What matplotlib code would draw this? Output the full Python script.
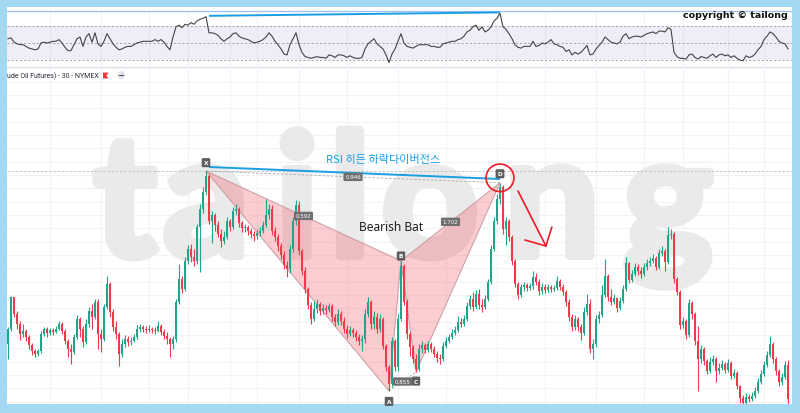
import numpy as np
import matplotlib
matplotlib.use("Agg")
import matplotlib.pyplot as plt
from matplotlib.patches import Polygon, Ellipse, Rectangle
import matplotlib.patheffects as pe

# ---------------- data: 30-minute crude oil candles ----------------
first_open = 65.5
closes = [
    67.0, 70.2, 68.5, 67.5, 66.5, 66.8, 66.2, 65.4, 64.8, 64.5,
    64.8, 66.5, 67.0, 66.6, 66.9, 66.7, 67.0, 67.5, 66.8, 65.8,
    65.0, 64.7, 66.2, 68.0, 67.0, 65.7, 67.5, 68.8, 68.2, 69.7,
    66.5, 66.0, 69.2, 71.5, 68.7, 67.2, 66.5, 64.5, 65.5, 66.0,
    65.7, 65.8, 66.2, 67.0, 67.2, 67.0, 66.9, 67.0, 66.9, 66.8,
    67.3, 66.7, 66.3, 66.0, 65.5, 66.0, 69.7, 72.0, 71.0, 73.8,
    75.0, 74.2, 73.8, 77.2, 79.0, 80.7, 82.3, 77.8, 78.4, 77.4,
    76.5, 75.8, 76.2, 77.8, 77.2, 78.8, 79.0, 77.6, 77.1, 77.2,
    76.8, 76.5, 76.3, 76.6, 76.8, 77.4, 78.4, 79.0, 76.8, 76.2,
    75.3, 74.4, 73.4, 73.0, 75.0, 77.8, 79.4, 74.8, 72.8, 71.0,
    69.4, 68.0, 69.0, 69.5, 68.8, 69.1, 68.9, 69.3, 68.2, 67.7,
    68.5, 67.8, 67.0, 66.5, 66.9, 66.6, 66.2, 65.8, 66.0, 68.5,
    69.7, 67.5, 68.2, 67.0, 68.0, 65.3, 63.2, 61.5, 65.8, 63.2,
    68.0, 73.3, 69.7, 66.5, 65.2, 64.0, 63.0, 65.0, 65.4, 64.9,
    65.5, 65.0, 64.5, 64.1, 64.0, 65.3, 65.8, 66.2, 66.6, 66.9,
    67.7, 67.5, 68.0, 69.3, 70.0, 69.2, 70.5, 69.4, 69.2, 70.0,
    71.7, 75.0, 77.8, 80.0, 81.2, 77.0, 77.8, 76.2, 73.8, 71.5,
    70.4, 71.2, 71.4, 71.1, 71.3, 72.2, 71.7, 70.8, 71.2, 70.9,
    71.2, 71.0, 71.1, 71.8, 71.2, 70.7, 69.7, 68.2, 67.2, 68.0,
    67.2, 66.6, 68.7, 69.5, 65.0, 65.5, 68.0, 68.4, 70.4, 72.3,
    70.2, 69.7, 70.1, 69.1, 69.8, 71.0, 73.6, 71.9, 72.5, 73.2,
    72.8, 72.5, 73.2, 73.6, 73.8, 74.1, 73.2, 74.6, 74.8, 73.7,
    76.4, 76.5, 72.0, 70.7, 67.4, 67.8, 66.4, 69.6, 68.5, 65.8,
    64.0, 65.0, 63.8, 62.8, 63.7, 64.0, 62.8, 63.1, 63.5, 62.9,
    63.6, 62.3, 62.6, 61.3, 60.1, 59.6, 60.2, 60.0, 60.3, 60.8,
    61.7, 62.5, 63.4, 64.4, 65.5, 64.0, 62.8, 61.7, 62.2, 63.4, 60.0,
]
highs = [
    67.2, 70.3, 70.2, 68.8, 67.8, 67.5, 67.0, 66.4, 65.6, 65.0,
    65.0, 66.8, 67.2, 67.2, 67.1, 67.1, 67.3, 67.8, 67.7, 67.0,
    66.0, 65.5, 66.5, 68.4, 68.2, 67.3, 68.0, 69.2, 69.5, 70.0,
    70.0, 67.0, 69.5, 72.3, 71.7, 69.0, 67.8, 66.7, 66.0, 66.4,
    66.3, 66.2, 66.5, 67.4, 67.5, 67.4, 67.3, 67.4, 67.2, 67.2,
    67.8, 67.5, 67.0, 66.7, 66.2, 66.3, 70.0, 73.5, 72.3, 74.2,
    75.4, 75.5, 75.0, 77.5, 79.5, 81.2, 82.8, 82.5, 78.8, 78.6,
    77.8, 77.0, 76.8, 78.2, 78.0, 79.2, 79.5, 79.2, 77.8, 77.5,
    77.4, 77.1, 76.8, 77.0, 77.2, 77.8, 80.0, 79.5, 79.4, 77.2,
    76.5, 75.6, 74.8, 73.8, 75.4, 78.2, 79.9, 79.8, 75.0, 73.2,
    71.2, 69.7, 69.8, 70.0, 69.7, 69.5, 69.4, 69.6, 69.5, 68.5,
    69.0, 68.8, 68.2, 67.4, 67.3, 67.1, 66.9, 66.5, 66.4, 69.0,
    70.2, 69.9, 68.8, 68.6, 68.5, 68.2, 65.5, 63.4, 66.2, 66.0,
    68.5, 73.8, 73.5, 70.0, 66.7, 65.4, 64.5, 65.5, 65.8, 65.6,
    65.8, 65.7, 65.3, 64.8, 64.5, 65.7, 66.2, 66.5, 67.0, 67.3,
    68.3, 68.1, 68.4, 69.7, 70.4, 70.7, 70.9, 71.0, 70.0, 70.4,
    72.0, 75.4, 78.2, 80.5, 81.6, 81.4, 78.2, 78.0, 76.4, 74.0,
    71.7, 71.5, 71.7, 71.6, 71.6, 72.8, 72.6, 72.0, 71.6, 71.5,
    71.5, 71.4, 71.4, 72.3, 72.0, 71.5, 70.9, 70.0, 68.5, 68.4,
    68.2, 67.5, 69.2, 70.5, 70.0, 66.0, 68.4, 68.8, 71.4, 74.0,
    72.5, 71.0, 70.5, 70.2, 70.2, 71.4, 74.2, 73.7, 72.9, 73.6,
    73.5, 73.2, 73.6, 74.0, 74.2, 74.5, 74.3, 75.0, 75.3, 75.0,
    77.2, 77.0, 76.7, 72.2, 70.9, 68.2, 68.0, 70.0, 69.8, 68.7,
    67.3, 65.4, 65.2, 64.0, 64.2, 64.4, 64.2, 63.6, 63.9, 63.7,
    64.0, 63.8, 63.0, 62.8, 61.4, 60.4, 60.6, 60.5, 60.7, 61.2,
    62.1, 62.9, 63.8, 64.8, 66.3, 65.7, 64.2, 63.0, 62.6, 63.8, 63.9,
]
lows = [
    64.0, 66.8, 68.2, 67.0, 65.9, 66.2, 65.8, 65.0, 64.4, 64.2,
    64.3, 64.6, 66.3, 66.2, 66.4, 66.4, 66.6, 66.9, 66.5, 65.5,
    64.2, 63.5, 64.5, 66.0, 66.2, 65.2, 65.5, 67.2, 67.0, 68.0,
    65.0, 64.7, 65.8, 69.0, 68.2, 66.8, 66.0, 63.3, 64.2, 65.2,
    65.3, 65.4, 65.7, 66.0, 66.7, 66.7, 66.6, 66.7, 66.6, 66.5,
    66.7, 66.4, 66.0, 65.5, 64.2, 65.0, 65.7, 69.5, 70.6, 70.8,
    73.5, 73.7, 73.3, 73.5, 72.7, 78.6, 80.4, 77.5, 75.6, 76.8,
    76.2, 75.2, 75.5, 76.0, 76.8, 77.0, 78.4, 77.2, 76.7, 76.7,
    76.4, 76.1, 75.8, 76.0, 76.3, 76.6, 77.2, 78.0, 76.4, 75.8,
    74.8, 74.0, 73.0, 72.2, 72.6, 74.7, 77.4, 74.4, 72.4, 70.6,
    69.0, 67.5, 67.8, 68.6, 68.4, 68.5, 68.5, 68.7, 67.8, 67.3,
    67.4, 67.4, 66.6, 66.1, 66.3, 66.2, 65.8, 65.4, 64.8, 65.6,
    68.2, 67.0, 67.0, 66.6, 66.7, 65.0, 62.8, 60.8, 61.2, 62.8,
    62.8, 67.8, 69.4, 66.0, 64.3, 63.6, 62.7, 62.8, 64.6, 64.6,
    64.7, 64.7, 64.2, 63.7, 63.5, 63.8, 65.1, 65.6, 66.0, 66.4,
    66.7, 67.2, 67.3, 67.8, 69.0, 68.8, 69.0, 69.0, 68.7, 69.0,
    69.8, 71.5, 74.8, 77.5, 79.5, 76.5, 75.4, 75.8, 73.4, 71.2,
    70.0, 70.2, 70.8, 70.8, 70.9, 71.0, 71.4, 70.4, 70.5, 70.6,
    70.7, 70.7, 70.8, 70.9, 70.9, 70.4, 69.3, 67.8, 66.8, 66.9,
    66.8, 65.9, 66.4, 68.4, 64.6, 64.0, 65.2, 67.6, 68.2, 70.2,
    69.8, 69.4, 69.5, 68.7, 68.9, 69.6, 70.8, 71.6, 71.7, 72.3,
    72.4, 72.1, 72.3, 72.9, 73.3, 73.6, 72.9, 73.0, 74.3, 72.8,
    73.5, 76.0, 71.6, 70.4, 67.0, 67.1, 66.0, 66.2, 68.0, 65.4,
    60.8, 63.6, 63.4, 62.5, 62.6, 63.4, 61.7, 62.5, 62.9, 62.6,
    62.7, 62.0, 62.1, 61.0, 59.6, 59.2, 59.4, 59.7, 59.8, 60.1,
    60.6, 61.5, 62.3, 63.2, 64.2, 63.6, 62.4, 61.3, 61.4, 62.0, 59.0,
]
# RSI(14) per candle
rsi = [
    55, 56, 51, 49, 48, 48, 46, 44, 43, 42,
    43, 50, 51, 50, 51, 52, 52, 54, 50, 45,
    41, 41, 48, 55, 57, 46, 57, 61, 51, 62,
    49, 46, 52, 61, 55, 49, 45, 42, 43, 45,
    46, 46, 48, 50, 51, 52, 52, 52, 52, 54,
    52, 54, 51, 46, 42, 57, 69, 71, 68, 72,
    71, 74, 72, 76, 78, 79, 81, 62, 62, 61,
    59, 55, 52, 55, 57, 61, 62, 58, 56, 55,
    54, 52, 50, 51, 52, 54, 57, 62, 58, 52,
    48, 43, 37, 36, 48, 55, 62, 48, 39, 34,
    33, 32, 33, 34, 33, 33, 32, 36, 35, 33,
    36, 36, 35, 33, 35, 33, 32, 32, 33, 43,
    49, 52, 55, 49, 46, 43, 36, 27, 37, 43,
    52, 61, 50, 46, 45, 44, 46, 48, 48, 48,
    48, 46, 46, 45, 45, 49, 50, 51, 52, 52,
    54, 55, 58, 63, 65, 69, 71, 65, 69, 63,
    65, 69, 76, 79, 85, 69, 66, 61, 55, 48,
    45, 44, 46, 46, 46, 52, 46, 47, 50, 49,
    51, 54, 49, 48, 46, 45, 40, 42, 36, 39,
    37, 39, 43, 47, 36, 37, 43, 47, 51, 57,
    54, 51, 50, 49, 51, 58, 61, 55, 57, 58,
    58, 57, 59, 61, 62, 63, 61, 64, 64, 63,
    68, 66, 39, 34, 32, 32, 31, 36, 37, 33,
    31, 34, 33, 32, 35, 37, 33, 36, 37, 35,
    36, 33, 35, 32, 30, 29, 35, 33, 34, 37,
    42, 46, 54, 58, 63, 61, 57, 52, 50, 49, 43,
]

# Bearish Bat pivots (candle index, price)
pattern_names = ["X", "A", "B", "C", "D"]
pattern_idx = [66, 127, 131, 136, 164]
pattern_price = [82.800, 60.800, 73.815, 62.692, 81.619]

# hidden bearish divergence: price highs vs RSI highs
div_idx = [67, 164]
div_price = [83.2, 82.0]
div_rsi = [82.0, 86.0]

# sell-side arrow after D (candle index, price)
arrow_idx = [170.0, 179.3]
arrow_price = [80.8, 75.3]
arrow_head_idx = [181.3, 179.3, 172.3]
arrow_head_price = [77.2, 75.3, 75.9]

# ---------------- styling ----------------
W, H = 800, 414
FRAME = "#a4d8f3"
UP = "#1fa58a"
DOWN = "#f03a4a"
GRID = "#f1f3f7"
BLUE = "#1a9fe3"
RED = "#ee1c25"
WM = "#eaeaea"

plt.rcParams["font.family"] = ["DejaVu Sans"]

fig = plt.figure(figsize=(W / 100, H / 100), dpi=100, facecolor=FRAME)


def fx(x):
    return x / W


def fy(y):
    return 1 - y / H


fig.add_artist(Rectangle((fx(7), fy(405)), 785 / W, 397 / H,
                         transform=fig.transFigure, fc="white", ec="none", zorder=-10))

n = len(closes)
idx = np.arange(n)
closes_a = np.array(closes)
opens_a = np.r_[first_open, closes_a[:-1]]
highs_a = np.array(highs)
lows_a = np.array(lows)
XLIM = (-1 / 3, n + 1 / 3)
vgrid = [14, 31, 47, 60, 74, 83, 97, 113, 130, 146, 163, 179, 196, 212, 225, 240, 252]

# ---------------- RSI pane ----------------
rax = fig.add_axes([fx(7), fy(68), 785 / W, 56 / H])
rax.set_facecolor("none")
rax.set_xlim(*XLIM)
rax.set_ylim(21.76, 87.65)
for v in vgrid:
    rax.axvline(v, color=GRID, lw=0.8, zorder=0)
rax.axhspan(30, 70, color=(126 / 255, 87 / 255, 194 / 255, 0.10), lw=0, zorder=0.5)
for lvl in (70, 50, 30):
    rax.axhline(lvl, color="#9598a1", lw=0.6, ls=(0, (2.5, 2.5)), zorder=1)
rax.plot(idx, rsi, color="#444444", lw=0.8, zorder=2)
rax.plot(div_idx, div_rsi, color=BLUE, lw=1.4, zorder=3, solid_capstyle="butt")
for s in ("left", "right"):
    rax.spines[s].set_visible(False)
rax.spines["top"].set_color("#9cc0f5")
rax.spines["top"].set_linewidth(0.9)
rax.spines["bottom"].set_color("#dfe2ea")
rax.spines["bottom"].set_linewidth(0.9)
rax.set_xticks([])
rax.set_yticks([])

# ---------------- price pane ----------------
ax = fig.add_axes([fx(7), 9 / H, 785 / W, 337 / H])
ax.set_facecolor("none")
ax.set_xlim(*XLIM)
ax.set_ylim(59.5, 93.2)
for s in ax.spines.values():
    s.set_visible(False)
ax.set_xticks([])
ax.set_yticks([])
for v in vgrid:
    ax.axvline(v, color=GRID, lw=0.8, zorder=0)
for hy in np.arange(74.4 - 4 / 3 * 12, 93.2, 4 / 3):
    ax.axhline(hy, color=GRID, lw=0.8, zorder=0)

# watermark
wm_letters = ["t", "a", "i", "l", "o", "n", "g"]
wm_x = [125, 206, 297, 350, 430, 552, 668]
for ch, x in zip(wm_letters, wm_x):
    ax.text(fx(x), fy(257), ch, transform=fig.transFigure, ha="center", va="baseline",
            fontsize=122, fontweight="bold", family="Lato", color=WM, zorder=0.3,
            path_effects=[pe.withStroke(linewidth=6, foreground=WM)])

# X-level reference line
ax.axhline(pattern_price[0], color="#b8bbc4", lw=0.6, ls=(0, (3, 2)), zorder=1)

# harmonic triangles
P = list(zip(pattern_idx, pattern_price))
fill = (242 / 255, 54 / 255, 69 / 255, 0.25)
for tri in ([P[0], P[1], P[2]], [P[2], P[3], P[4]]):
    ax.add_patch(Polygon(tri, closed=True, fc=fill, ec="#c99a9e", lw=0.7, zorder=1.5))
for a, b in ((0, 4), (1, 3)):
    ax.plot([P[a][0], P[b][0]], [P[a][1], P[b][1]], color="#a9a9a9", lw=0.6,
            ls=(0, (3, 2)), zorder=1.6)

# candles
colors = np.where(closes_a >= opens_a, UP, DOWN)
ax.vlines(idx, lows_a, highs_a, colors=colors, lw=0.8, zorder=3)
body_lo = np.minimum(opens_a, closes_a)
body_h = np.maximum(np.abs(closes_a - opens_a), 0.08)
ax.bar(idx, body_h, bottom=body_lo, width=0.72, color=colors, lw=0, zorder=3)

# divergence line on price
ax.plot(div_idx, div_price, color=BLUE, lw=1.4, zorder=4, solid_capstyle="butt")
ax.text(125, 84.0, "RSI 히든 하락다이버전스", color=BLUE, fontsize=8,
        family=["Noto Sans CJK KR", "DejaVu Sans"], ha="center", va="center", zorder=5)

# pivot labels
offsets = {"X": 6, "A": -7.5, "B": 3.5, "C": -6.5, "D": 6.5}
for name, (xi, yp) in zip(pattern_names, P):
    ax.annotate(name, (xi, yp), xytext=(0, offsets[name]), textcoords="offset points",
                ha="center", va="center", fontsize=4.2, color="white", fontweight="bold",
                bbox=dict(boxstyle="round,pad=0.35,rounding_size=0.2", fc="#5e5e5e", ec="none"),
                zorder=6)

# ratio labels at leg midpoints
XA = P[0][1] - P[1][1]
AB = P[2][1] - P[1][1]
BC = P[2][1] - P[3][1]
CD = P[4][1] - P[3][1]
AD = P[4][1] - P[1][1]
ratios = [((0, 2), AB / XA), ((0, 4), AD / XA), ((2, 4), CD / BC), ((1, 3), BC / AB)]
for (a, b), r in ratios:
    mx = (P[a][0] + P[b][0]) / 2
    my = (P[a][1] + P[b][1]) / 2
    ax.text(mx, my, f"{r:.3f}", ha="center", va="center", fontsize=4.0, color="white",
            bbox=dict(boxstyle="round,pad=0.3,rounding_size=0.2", fc="#6f6f6f", ec="none"),
            zorder=6)

ax.text(127.7, 77.2, "Bearish Bat", ha="center", va="center", fontsize=8.6,
        family="Noto Sans", fontweight="semibold", color="#1e1e1e", zorder=6)

# red circle on D and down arrow
ax.add_patch(Ellipse((pattern_idx[4], pattern_price[4] + 0.5), 9.3, 2.75,
                     fill=False, ec=RED, lw=1.2, zorder=7))
ax.plot(arrow_idx, arrow_price, color=RED, lw=1.2, zorder=7, solid_capstyle="round")
ax.plot(arrow_head_idx, arrow_head_price, color=RED, lw=1.2, zorder=7,
        solid_capstyle="round", solid_joinstyle="miter")

# symbol legend row
fig.text(fx(7), fy(76.5), "ude Oil Futures) - 30 - NYMEX", fontsize=5, family="Roboto",
         color="#2a2e39", ha="left", va="center")
fig.add_artist(Polygon([(fx(103), fy(73.5)), (fx(108.5), fy(73.5)), (fx(106.5), fy(76.5)),
                        (fx(108.5), fy(79.5)), (fx(103), fy(79.5))],
                       closed=True, transform=fig.transFigure, fc="#f23645", ec="none"))
fig.add_artist(Ellipse((fx(121), fy(76)), 8 / W, 8 / H, transform=fig.transFigure,
                       fc="#e3e5ea", ec="none"))
fig.add_artist(plt.Line2D([fx(119), fx(123)], [fy(76), fy(76)], transform=fig.transFigure,
                          color="#50535e", lw=0.8))

fig.text(fx(788), fy(16), "copyright © tailong", fontsize=6.8, fontweight="bold",
         color="#111111", ha="right", va="center")

fig.savefig("out.png", dpi=100, facecolor=FRAME)
